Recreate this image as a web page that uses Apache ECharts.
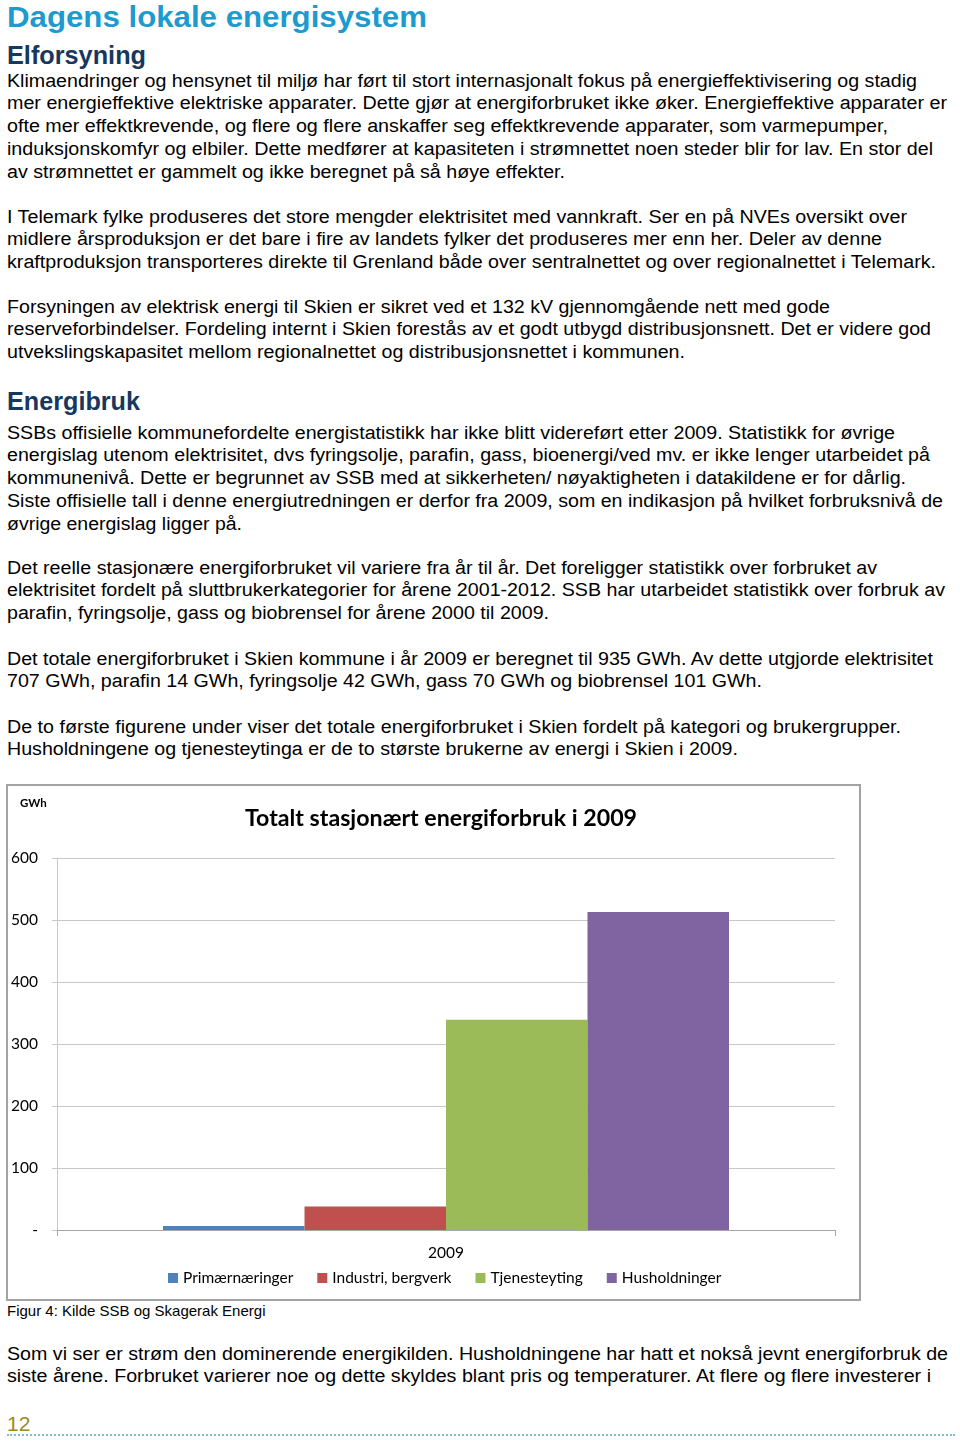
<!DOCTYPE html>
<html><head><meta charset="utf-8">
<script src="https://cdn.jsdelivr.net/npm/echarts@6/dist/echarts.min.js"></script>
<style>
html,body{margin:0;padding:0;background:#fff;width:960px;height:1443px;overflow:hidden;}
body{position:relative;font-family:"Liberation Sans",Arial,sans-serif;color:#000;}
.p{position:absolute;left:7px;font-size:18px;line-height:22.75px;}
.p div{white-space:nowrap;height:22.75px;}
.p span, .h span{display:inline-block;transform-origin:0 50%;white-space:nowrap;}
.h{position:absolute;left:7px;font-weight:bold;white-space:nowrap;}
#chartbox{position:absolute;left:6px;top:784px;width:855px;height:517px;border:2px solid #a3a3a3;box-sizing:border-box;}
#chart{width:851px;height:513px;}
#cap{position:absolute;left:7px;top:1302px;font-size:15px;line-height:18px;white-space:nowrap;}
#pg{position:absolute;left:7px;top:1412px;font-size:21px;line-height:24px;color:#9c8a1c;font-family:"Liberation Sans Narrow","Liberation Sans",Arial,sans-serif;}
#dots{position:absolute;left:7px;top:1434px;width:948px;border-top:2px dotted #7dbdd3;}
</style></head>
<body>
<div class="h" style="top:0px;font-size:30px;line-height:34px;color:#1d9bcf;"><span data-r="427">Dagens lokale energisystem</span></div>
<div class="h" style="top:40px;font-size:26px;line-height:30px;color:#17375e;"><span data-r="146">Elforsyning</span></div>

<div class="p" style="top:69.6px">
<div><span data-r="917">Klimaendringer og hensynet til miljø har ført til stort internasjonalt fokus på energieffektivisering og stadig</span></div>
<div><span data-r="947">mer energieffektive elektriske apparater. Dette gjør at energiforbruket ikke øker. Energieffektive apparater er</span></div>
<div><span data-r="888">ofte mer effektkrevende, og flere og flere anskaffer seg effektkrevende apparater, som varmepumper,</span></div>
<div><span data-r="933">induksjonskomfyr og elbiler. Dette medfører at kapasiteten i strømnettet noen steder blir for lav. En stor del</span></div>
<div><span data-r="565">av strømnettet er gammelt og ikke beregnet på så høye effekter.</span></div>
</div>

<div class="p" style="top:205.6px">
<div><span data-r="907">I Telemark fylke produseres det store mengder elektrisitet med vannkraft. Ser en på NVEs oversikt over</span></div>
<div><span data-r="882">midlere årsproduksjon er det bare i fire av landets fylker det produseres mer enn her. Deler av denne</span></div>
<div><span data-r="936">kraftproduksjon transporteres direkte til Grenland både over sentralnettet og over regionalnettet i Telemark.</span></div>
</div>

<div class="p" style="top:295.6px">
<div><span data-r="830">Forsyningen av elektrisk energi til Skien er sikret ved et 132 kV gjennomgående nett med gode</span></div>
<div><span data-r="931">reserveforbindelser. Fordeling internt i Skien forestås av et godt utbygd distribusjonsnett. Det er videre god</span></div>
<div><span data-r="685">utvekslingskapasitet mellom regionalnettet og distribusjonsnettet i kommunen.</span></div>
</div>

<div class="h" style="top:386px;font-size:26px;line-height:30px;color:#17375e;"><span data-r="140">Energibruk</span></div>

<div class="p" style="top:421.6px">
<div><span data-r="895">SSBs offisielle kommunefordelte energistatistikk har ikke blitt videreført etter 2009. Statistikk for øvrige</span></div>
<div><span data-r="930">energislag utenom elektrisitet, dvs fyringsolje, parafin, gass, bioenergi/ved mv. er ikke lenger utarbeidet på</span></div>
<div><span data-r="906">kommunenivå. Dette er begrunnet av SSB med at sikkerheten/ nøyaktigheten i datakildene er for dårlig.</span></div>
<div><span data-r="943">Siste offisielle tall i denne energiutredningen er derfor fra 2009, som en indikasjon på hvilket forbruksnivå de</span></div>
<div><span data-r="242">øvrige energislag ligger på.</span></div>
</div>

<div class="p" style="top:556.6px">
<div><span data-r="877">Det reelle stasjonære energiforbruket vil variere fra år til år. Det foreligger statistikk over forbruket av</span></div>
<div><span data-r="945">elektrisitet fordelt på sluttbrukerkategorier for årene 2001-2012. SSB har utarbeidet statistikk over forbruk av</span></div>
<div><span data-r="549">parafin, fyringsolje, gass og biobrensel for årene 2000 til 2009.</span></div>
</div>

<div class="p" style="top:647.6px">
<div><span data-r="933">Det totale energiforbruket i Skien kommune i år 2009 er beregnet til 935 GWh. Av dette utgjorde elektrisitet</span></div>
<div><span data-r="762">707 GWh, parafin 14 GWh, fyringsolje 42 GWh, gass 70 GWh og biobrensel 101 GWh.</span></div>
</div>

<div class="p" style="top:715.6px">
<div><span data-r="901">De to første figurene under viser det totale energiforbruket i Skien fordelt på kategori og brukergrupper.</span></div>
<div><span data-r="738">Husholdningene og tjenesteytinga er de to største brukerne av energi i Skien i 2009.</span></div>
</div>

<div id="chartbox"><div id="chart"></div></div>
<div id="cap">Figur 4: Kilde SSB og Skagerak Energi</div>

<div class="p" style="top:1342.6px">
<div><span data-r="948">Som vi ser er strøm den dominerende energikilden. Husholdningene har hatt et nokså jevnt energiforbruk de</span></div>
<div><span data-r="931">siste årene. Forbruket varierer noe og dette skyldes blant pris og temperaturer. At flere og flere investerer i</span></div>
</div>

<div id="pg">12</div>
<div id="dots"></div>

<script>
document.querySelectorAll('span[data-r]').forEach(function(s){
  var w = s.getBoundingClientRect().width;
  var target = +s.dataset.r - 7;
  if (w > 0) s.style.transform = 'scaleX(' + (target / w) + ')';
});

var categories = ['2009'];
var seriesNames = ['Primærnæringer', 'Industri, bergverk', 'Tjenesteyting', 'Husholdninger'];
var seriesValues = [6.5, 38, 339, 513];
var seriesColors = ['#4f81bd', '#c0504d', '#9bbb59', '#8064a2'];
var yTicks = [0, 100, 200, 300, 400, 500, 600];

var FONT = 'Lato, "Open Sans", sans-serif';
var chart = echarts.init(document.getElementById('chart'), null, {renderer: 'canvas'});
chart.setOption({
  animation: false,
  backgroundColor: '#fff',
  textStyle: {fontFamily: FONT},
  grid: {left: 49, right: 24, top: 72, bottom: 69, containLabel: false},
  graphic: [
    {type: 'text', left: 12, top: 11, style: {text: 'GWh', fontFamily: FONT, fontWeight: 'bold', fontSize: 11.5, fill: '#000'}},
    {type: 'text', x: 433, y: 33, style: {text: 'Totalt stasjonært energiforbruk i 2009', fontFamily: FONT, fontWeight: 'bold', fontSize: 23.2, fill: '#000', align: 'center', verticalAlign: 'middle'}}
  ],
  legend: {
    data: seriesNames,
    left: 160, top: 484, padding: 0,
    itemWidth: 10, itemHeight: 10, itemGap: 24,
    icon: 'rect',
    textStyle: {fontFamily: FONT, fontSize: 15.5, color: '#000'}
  },
  xAxis: {
    type: 'category',
    data: categories,
    axisLine: {show: true, lineStyle: {color: '#a6a6a6', width: 1}},
    axisTick: {show: true, length: 6, lineStyle: {color: '#a6a6a6'}},
    axisLabel: {margin: 15, fontFamily: FONT, fontSize: 15.5, color: '#000'}
  },
  yAxis: {
    type: 'value',
    min: yTicks[0], max: yTicks[yTicks.length - 1], interval: 100,
    axisLine: {show: true, lineStyle: {color: '#c8c8c8', width: 1}},
    axisTick: {show: true, length: 5, lineStyle: {color: '#c8c8c8'}},
    splitLine: {show: true, lineStyle: {color: '#c8c8c8', width: 1}},
    axisLabel: {
      margin: 19, fontFamily: FONT, fontSize: 15.5, color: '#000',
      formatter: function(v){ return v === 0 ? '-' : String(v); }
    }
  },
  series: seriesNames.map(function(n, i){
    return {
      name: n, type: 'bar', data: [seriesValues[i]],
      barWidth: 141.5, barGap: '0%',
      itemStyle: {color: seriesColors[i]}
    };
  })
});
</script>
</body></html>
